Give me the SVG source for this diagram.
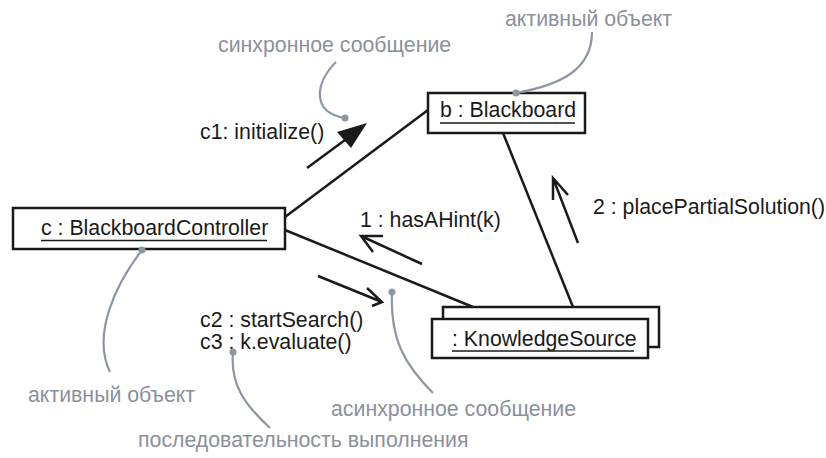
<svg xmlns="http://www.w3.org/2000/svg" width="826" height="458" viewBox="0 0 826 458">
<style>
.box{fill:#fff;stroke:#1a1a1a;stroke-width:2.5}
.ul{stroke:#1a1a1a;stroke-width:1.3}
.lnk{stroke:#1a1a1a;stroke-width:2.5;fill:none}
.arr{stroke:#1a1a1a;stroke-width:2.5;fill:none;stroke-linecap:butt}
.t{font-family:"Liberation Sans",Arial,sans-serif;font-size:21.3px;fill:#1a1a1a}
.g{font-family:"Liberation Sans",Arial,sans-serif;font-size:21.3px;fill:#8a909c}
.gl{stroke:#8e96a3;stroke-width:2.2;fill:none}
.dot{fill:#8e96a3}
</style>
<rect width="826" height="458" fill="#fff"/>
<g id="connectors">
<line class="lnk" x1="285" y1="217" x2="428" y2="110"/>
<line class="lnk" x1="285" y1="230" x2="473" y2="307"/>
<line class="lnk" x1="503" y1="133" x2="573" y2="307"/>
</g>
<g id="node-blackboard">
<rect class="box" x="428" y="93" width="157" height="40"/>
<text class="t" x="440" y="117">b : Blackboard</text>
<line class="ul" x1="440" y1="123" x2="575" y2="123"/>
</g>
<g id="node-controller">
<rect class="box" x="13" y="208" width="272" height="41"/>
<text class="t" x="41" y="235">c : BlackboardController</text>
<line class="ul" x1="41" y1="240.5" x2="267" y2="240.5"/>
</g>
<g id="node-knowledgesource">
<rect class="box" x="443" y="307" width="216" height="40"/>
<rect class="box" x="432" y="319" width="216" height="39"/>
<text class="t" x="452" y="346">: KnowledgeSource</text>
<line class="ul" x1="452" y1="351" x2="634" y2="351"/>
</g>
<g id="messages">
<line class="arr" x1="307" y1="168" x2="345" y2="140"/>
<polygon points="367,123 337,132 351,148" fill="#1a1a1a"/>
<text class="t" x="200" y="139">c1: initialize()</text>
<path class="arr" d="M422,264 L361,236 M383,236 L361,236 L373,252"/>
<text class="t" x="360" y="227">1 : hasAHint(k)</text>
<path class="arr" d="M318,276 L382,302 M367,288 L382,302 L372,306"/>
<text class="t" x="200" y="327">c2 : startSearch()</text>
<text class="t" x="200" y="349">c3 : k.evaluate()</text>
<path class="arr" d="M578,243 L553,178 M553,200 L553,178 L568,195"/>
<text class="t" x="593" y="214">2 : placePartialSolution()</text>
</g>
<g id="annotations">
<text class="g" x="218" y="52">синхронное сообщение</text>
<path class="gl" d="M336,62 C316,82 310,112 345,118"/>
<circle class="dot" cx="345" cy="118" r="3.5"/>
<text class="g" x="505" y="26">активный объект</text>
<path class="gl" d="M592,32 C592,70 560,85 516,93"/>
<circle class="dot" cx="516" cy="93" r="3.5"/>
<path class="gl" d="M142,250 C115,285 92,335 110,372"/>
<circle class="dot" cx="142" cy="250" r="3.5"/>
<text class="g" x="28" y="402">активный объект</text>
<path class="gl" d="M233,352 C230,385 245,405 270,428"/>
<circle class="dot" cx="233" cy="352" r="3.5"/>
<path class="gl" d="M392,292 C390,340 405,365 433,393"/>
<circle class="dot" cx="392" cy="292" r="3.5"/>
<text class="g" x="331" y="416">асинхронное сообщение</text>
<text class="g" x="138" y="447">последовательность выполнения</text>
</g>
</svg>
